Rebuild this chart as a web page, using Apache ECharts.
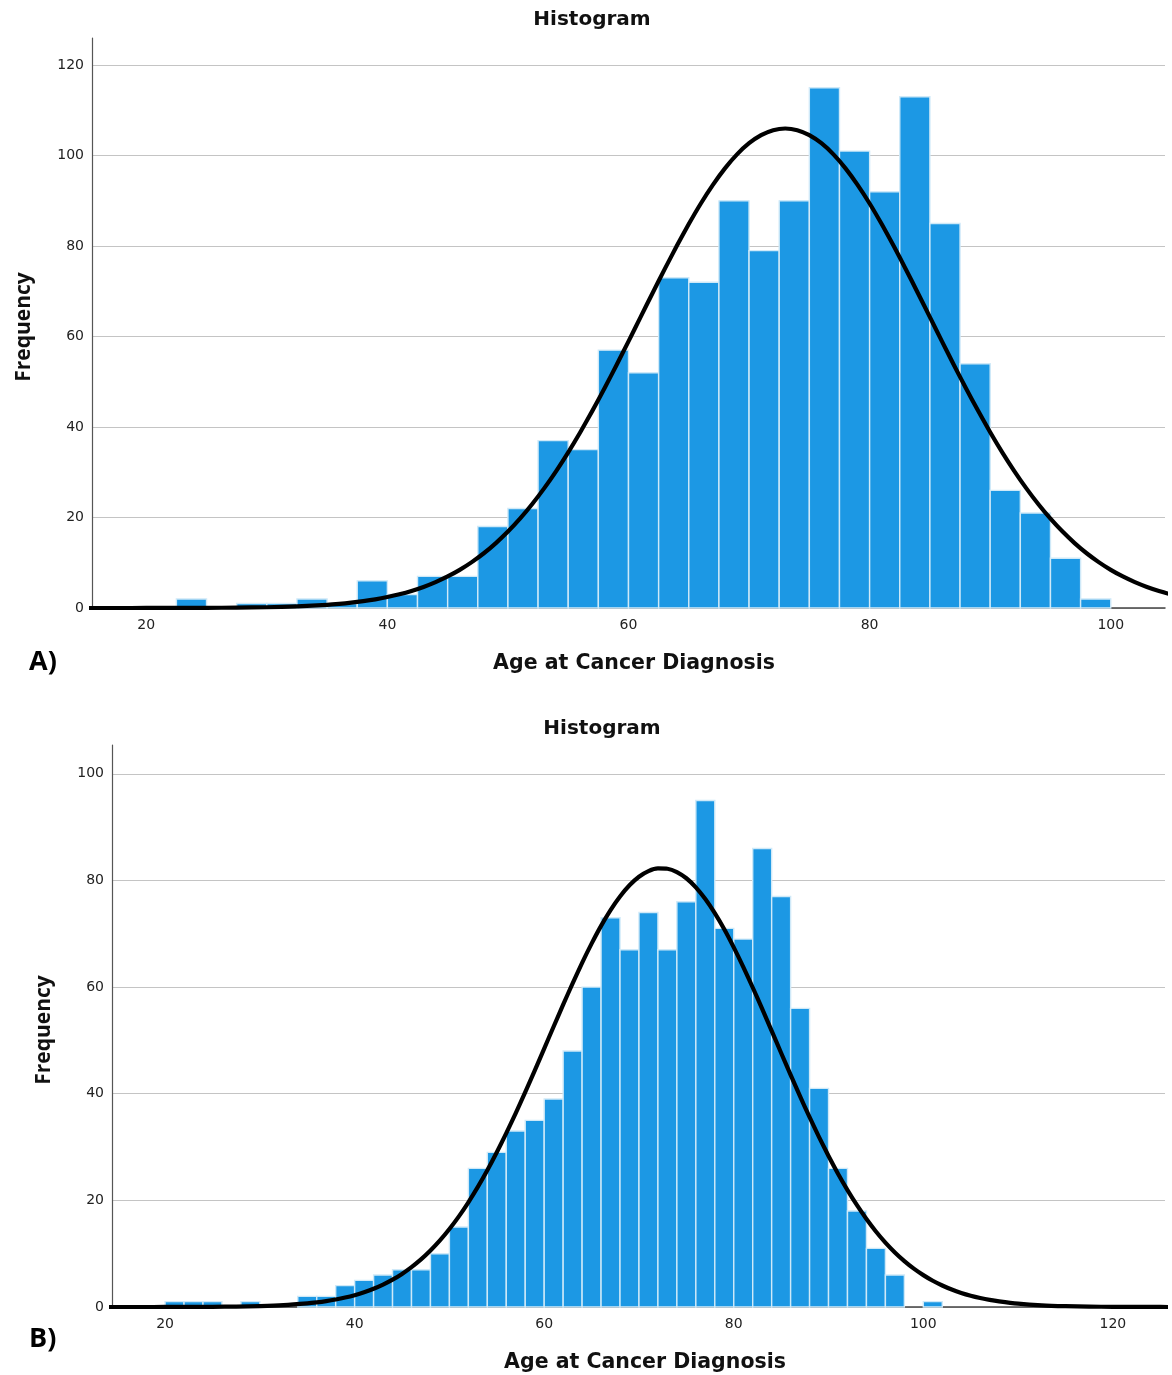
<!DOCTYPE html>
<html>
<head>
<meta charset="utf-8">
<script src="https://cdn.jsdelivr.net/npm/echarts@6/dist/echarts.min.js"></script>
<style>
  html, body { margin: 0; padding: 0; background: #fff; }
  #chart { width: 1172px; height: 1375px; }
</style>
</head>
<body>
<div id="chart"></div>
<script>
// ---------- Panel A data (bin width 2.5) ----------
const binWidthA = 2.5;
const binLowA = [22.5, 25, 27.5, 30, 32.5, 35, 37.5, 40, 42.5, 45, 47.5, 50, 52.5, 55, 57.5, 60, 62.5, 65, 67.5, 70, 72.5, 75, 77.5, 80, 82.5, 85, 87.5, 90, 92.5, 95, 97.5];
const countsA = [2, 0, 1, 1, 2, 1, 6, 3, 7, 7, 18, 22, 37, 35, 57, 52, 73, 72, 90, 79, 90, 115, 101, 92, 113, 85, 54, 26, 21, 11, 2];
// normal curve
const curveXA = [12.5, 15, 17.5, 20, 22.5, 25, 27.5, 30, 32.5, 35, 36, 37, 38, 39,
  40, 41, 42, 43, 44, 45, 46, 47, 48, 49, 50, 51, 52, 53, 54, 55, 56, 57, 58, 59,
  60, 61, 62, 63, 64, 65, 66, 67, 68, 69, 70, 71, 72, 73, 74, 75, 76, 77, 78, 79,
  80, 81, 82, 83, 84, 85, 86, 87, 88, 89, 90, 91, 92, 93, 94, 95, 96, 97, 98, 99,
  100, 101, 102, 103, 104, 105, 107.5];
const curveYA = [0, 0.001, 0.002, 0.006, 0.015, 0.036, 0.08, 0.17, 0.36, 0.70, 0.91, 1.18, 1.51, 1.91,
  2.42, 3.03, 3.77, 4.66, 5.72, 6.97, 8.43, 10.14, 12.10, 14.35, 16.89, 19.74, 22.93, 26.44, 30.27, 34.42, 38.86, 43.58, 48.52, 53.67,
  58.95, 64.29, 69.64, 74.90, 80.01, 84.87, 89.42, 93.54, 97.19, 100.28, 102.74, 104.53, 105.63, 106.0, 105.63, 104.53, 102.74, 100.28, 97.19, 93.54,
  89.42, 84.87, 80.01, 74.90, 69.64, 64.29, 58.95, 53.67, 48.52, 43.58, 38.86, 34.42, 30.27, 26.44, 22.93, 19.74, 16.89, 14.35, 12.10, 10.14,
  8.43, 6.97, 5.72, 4.66, 3.77, 3.03, 1.7];
const xTicksA = [20, 40, 60, 80, 100];
const yTicksA = [0, 20, 40, 60, 80, 100, 120];

// ---------- Panel B data (bin width 2) ----------
const binWidthB = 2;
const binLowB = [20, 22, 24, 26, 28, 30, 32, 34, 36, 38, 40, 42, 44, 46, 48, 50, 52, 54, 56, 58, 60, 62, 64, 66, 68, 70, 72, 74, 76, 78, 80, 82, 84, 86, 88, 90, 92, 94, 96, 98, 100];
const countsB = [1, 1, 1, 0, 1, 0, 0, 2, 2, 4, 5, 6, 7, 7, 10, 15, 26, 29, 33, 35, 39, 48, 60, 73, 67, 74, 67, 76, 95, 71, 69, 86, 77, 56, 41, 26, 18, 11, 6, 0, 1];
const curveXB = [12.5, 15, 17.5, 20, 22.5, 25, 27.5, 30, 32.5, 35, 36, 37,
  38, 39, 40, 41, 42, 43, 44, 45, 46, 47, 48, 49, 50, 51, 52, 53, 54, 55, 56, 57, 58, 59,
  60, 61, 62, 63, 64, 65, 66, 67, 68, 69, 70, 71, 72, 73, 74, 75, 76, 77, 78, 79,
  80, 81, 82, 83, 84, 85, 86, 87, 88, 89, 90, 91, 92, 93, 94, 95, 96, 97, 98, 99,
  100, 101, 102, 103, 104, 105, 106, 107, 108, 110, 112.5, 115, 117.5, 120, 122.5, 125, 127.5];
const curveYB = [0, 0.001, 0.003, 0.006, 0.016, 0.036, 0.08, 0.17, 0.34, 0.67, 0.86, 1.10,
  1.40, 1.77, 2.22, 2.76, 3.41, 4.19, 5.12, 6.20, 7.47, 8.92, 10.59, 12.48, 14.62, 17.00, 19.64, 22.52, 25.64, 29.01, 32.60, 36.37, 40.30, 44.34,
  48.47, 52.61, 56.70, 60.71, 64.55, 68.15, 71.48, 74.44, 76.99, 79.09, 80.69, 81.75, 82.25, 82.20, 81.58, 80.41, 78.71, 76.51, 73.87, 70.84,
  67.45, 63.79, 59.92, 55.90, 51.78, 47.64, 43.53, 39.50, 35.60, 31.87, 28.32, 25.00, 21.92, 19.09, 16.51, 14.17, 12.09, 10.24, 8.62, 7.20,
  5.98, 4.92, 4.03, 3.27, 2.64, 2.12, 1.69, 1.33, 1.05, 0.63, 0.32, 0.16, 0.07, 0.03, 0.01, 0.006, 0];
const xTicksB = [20, 40, 60, 80, 100, 120];
const yTicksB = [0, 20, 40, 60, 80, 100];

// ---------- helpers ----------
function histData(lows, counts, w) {
  return lows.map((lo, i) => [lo, lo + w, counts[i]]);
}
function curveData(xs, ys) {
  return xs.map((x, i) => [x, ys[i]]);
}
const barColor = '#1c98e4';
function renderBin(params, api) {
  const y = api.value(2);
  if (!y) return null;
  const p0 = api.coord([api.value(0), y]);
  const p1 = api.coord([api.value(1), 0]);
  return {
    type: 'rect',
    shape: { x: p0[0], y: p0[1], width: p1[0] - p0[0], height: p1[1] - p0[1] },
    style: { fill: barColor, stroke: '#cfe9f8', lineWidth: 1.4 }
  };
}

const tickFont = { fontFamily: 'DejaVu Sans', fontSize: 14, color: '#222' };
const nameFont = { fontFamily: 'DejaVu Sans', fontSize: 20.5, fontWeight: 'bold', color: '#111' };
const freqFont = { fontFamily: 'Open Sans', fontSize: 21, fontWeight: 'bold', color: '#111' };

function xAxisDef(gridIndex, min, max, ticks, padLeft) {
  return {
    type: 'value', gridIndex, min, max,
    name: 'Age at Cancer Diagnosis', nameLocation: 'middle', nameGap: 45,
    nameTextStyle: Object.assign({ padding: [0, 0, 0, padLeft] }, nameFont),
    axisLine: { show: true, onZero: false, lineStyle: { color: '#444', width: 1.5 } },
    axisTick: { show: false, customValues: ticks },
    axisLabel: Object.assign({ customValues: ticks, margin: 10 }, tickFont),
    splitLine: { show: false }
  };
}
function yAxisDef(gridIndex, max, ticks) {
  return {
    type: 'value', gridIndex, min: 0, max,
    name: 'Frequency', nameLocation: 'middle', nameGap: 57, nameRotate: 90,
    nameTextStyle: Object.assign({ padding: [0, 8, 0, 0] }, freqFont),
    axisLine: { show: true, lineStyle: { color: '#555', width: 1.2 } },
    axisTick: { show: false, customValues: ticks },
    axisLabel: Object.assign({ customValues: ticks, margin: 8 }, tickFont),
    splitLine: { show: true, lineStyle: { color: '#c4c4c4', width: 1.2 } }
  };
}

const chart = echarts.init(document.getElementById('chart'), null, { renderer: 'canvas' });
chart.setOption({
  animation: false,
  backgroundColor: '#fff',
  title: [
    { text: 'Histogram', left: 587, top: 5, textAlign: 'center',
      textStyle: { fontFamily: 'DejaVu Sans', fontSize: 20, fontWeight: 'bold', color: '#111' } },
    { text: 'Histogram', left: 597, top: 714, textAlign: 'center',
      textStyle: { fontFamily: 'DejaVu Sans', fontSize: 20, fontWeight: 'bold', color: '#111' } }
  ],
  graphic: [
    { type: 'text', left: 29, top: 649, style: { text: 'A)', font: 'bold 27px "Open Sans"', fill: '#000' } },
    { type: 'text', left: 29, top: 1326, style: { text: 'B)', font: 'bold 27px "Open Sans"', fill: '#000' } }
  ],
  grid: [
    { left: 92, right: 7, top: 38, bottom: 767, containLabel: false },
    { left: 112, right: 7, top: 745, bottom: 68, containLabel: false }
  ],
  xAxis: [
    xAxisDef(0, 15.5, 104.5, xTicksA, 11),
    xAxisDef(1, 14.4, 125.5, xTicksB, 13)
  ],
  yAxis: [
    yAxisDef(0, 126, yTicksA),
    yAxisDef(1, 105.4, yTicksB)
  ],
  series: [
    { type: 'custom', xAxisIndex: 0, yAxisIndex: 0, renderItem: renderBin,
      encode: { x: [0, 1], y: 2 }, data: histData(binLowA, countsA, binWidthA), z: 2 },
    { type: 'line', xAxisIndex: 0, yAxisIndex: 0, data: curveData(curveXA, curveYA),
      smooth: 0.2, showSymbol: false, clip: true,
      lineStyle: { color: '#000', width: 4.2, join: 'round' }, z: 3 },
    { type: 'custom', xAxisIndex: 1, yAxisIndex: 1, renderItem: renderBin,
      encode: { x: [0, 1], y: 2 }, data: histData(binLowB, countsB, binWidthB), z: 2 },
    { type: 'line', xAxisIndex: 1, yAxisIndex: 1, data: curveData(curveXB, curveYB),
      smooth: 0.2, showSymbol: false, clip: true,
      lineStyle: { color: '#000', width: 4.2, join: 'round' }, z: 3 }
  ]
});
</script>
</body>
</html>
